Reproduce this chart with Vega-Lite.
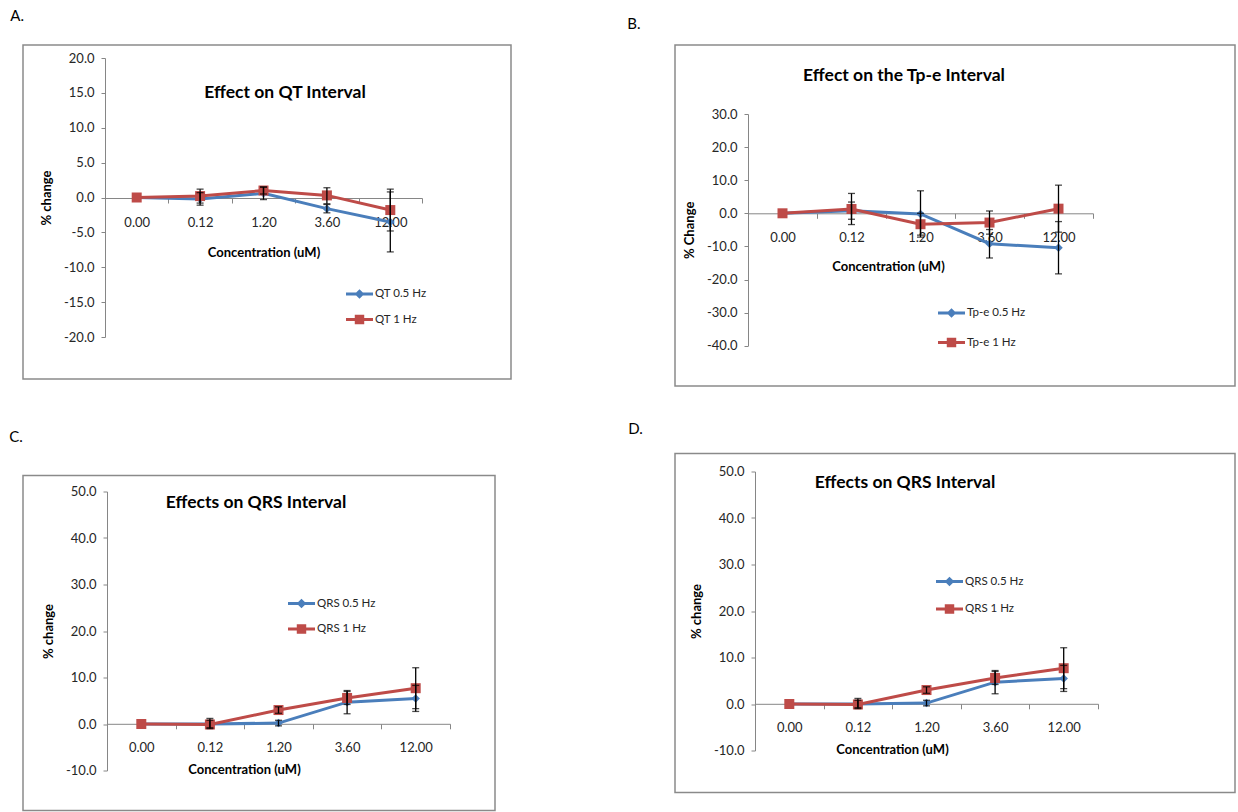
{
  "$schema": "https://vega.github.io/schema/vega-lite/v6.json",
  "background": "white",
  "padding": {"left": 9, "top": 9, "right": 0, "bottom": 0},
  "config": {
    "view": {"stroke": "#8a8a8a", "strokeWidth": 1.5},
    "font": "Lato",
    "locale": {"number": {"decimal": ".", "thousands": ",", "grouping": [3], "currency": ["$", ""], "minus": "-"}},
    "axis": {"labelFont": "Lato", "titleFont": "Lato", "grid": false, "domainColor": "#868686", "tickColor": "#868686", "labelColor": "#262626", "titleColor": "#000000", "labelFontSize": 13, "titleFontSize": 13, "titleFontWeight": "bold", "domainWidth": 1, "tickWidth": 1},
    "legend": {"labelFont": "Lato", "labelFontSize": 11.5, "labelColor": "#262626", "padding": 0, "labelOffset": 2, "symbolSize": 729, "symbolStrokeWidth": 0, "symbolType": "M-1,-0.11H1V0.11H-1Z M-0.35,-0.35H0.35V0.35H-0.35Z"},
    "title": {"font": "Lato", "color": "#000000"}
  },
  "datasets": {
    "qt": [
      {"series": "QT 0.5 Hz", "conc": "0.00", "c": 0, "value": 0, "lo": null, "hi": null},
      {"series": "QT 0.5 Hz", "conc": "0.12", "c": 0.12, "value": -0.2, "lo": -1.1, "hi": 0.7},
      {"series": "QT 0.5 Hz", "conc": "1.20", "c": 1.2, "value": 0.6, "lo": -0.3, "hi": 1.5},
      {"series": "QT 0.5 Hz", "conc": "3.60", "c": 3.6, "value": -1.6, "lo": -2.2, "hi": -1.0},
      {"series": "QT 0.5 Hz", "conc": "12.00", "c": 12, "value": -3.5, "lo": -7.8, "hi": 0.8},
      {"series": "QT 1 Hz", "conc": "0.00", "c": 0, "value": 0, "lo": null, "hi": null},
      {"series": "QT 1 Hz", "conc": "0.12", "c": 0.12, "value": 0.2, "lo": -0.8, "hi": 1.2},
      {"series": "QT 1 Hz", "conc": "1.20", "c": 1.2, "value": 1.0, "lo": 0.5, "hi": 1.5},
      {"series": "QT 1 Hz", "conc": "3.60", "c": 3.6, "value": 0.3, "lo": -0.9, "hi": 1.4},
      {"series": "QT 1 Hz", "conc": "12.00", "c": 12, "value": -1.8, "lo": -4.8, "hi": 1.2}
    ],
    "tpe": [
      {"series": "Tp-e 0.5 Hz", "conc": "0.00", "c": 0, "value": 0, "lo": null, "hi": null},
      {"series": "Tp-e 0.5 Hz", "conc": "0.12", "c": 0.12, "value": 0.8, "lo": -1.8, "hi": 3.4},
      {"series": "Tp-e 0.5 Hz", "conc": "1.20", "c": 1.2, "value": -0.2, "lo": -7.2, "hi": 6.8},
      {"series": "Tp-e 0.5 Hz", "conc": "3.60", "c": 3.6, "value": -9.2, "lo": -13.5, "hi": -4.9},
      {"series": "Tp-e 0.5 Hz", "conc": "12.00", "c": 12, "value": -10.4, "lo": -18.3, "hi": -2.5},
      {"series": "Tp-e 1 Hz", "conc": "0.00", "c": 0, "value": 0, "lo": null, "hi": null},
      {"series": "Tp-e 1 Hz", "conc": "0.12", "c": 0.12, "value": 1.3, "lo": -3.4, "hi": 6.0},
      {"series": "Tp-e 1 Hz", "conc": "1.20", "c": 1.2, "value": -3.3, "lo": -6.6, "hi": 0.0},
      {"series": "Tp-e 1 Hz", "conc": "3.60", "c": 3.6, "value": -2.8, "lo": -6.3, "hi": 0.7},
      {"series": "Tp-e 1 Hz", "conc": "12.00", "c": 12, "value": 1.4, "lo": -5.7, "hi": 8.5}
    ],
    "qrs": [
      {"series": "QRS 0.5 Hz", "conc": "0.00", "c": 0, "value": 0, "lo": null, "hi": null},
      {"series": "QRS 0.5 Hz", "conc": "0.12", "c": 0.12, "value": 0.0, "lo": -0.8, "hi": 0.8},
      {"series": "QRS 0.5 Hz", "conc": "1.20", "c": 1.2, "value": 0.2, "lo": -0.4, "hi": 0.8},
      {"series": "QRS 0.5 Hz", "conc": "3.60", "c": 3.6, "value": 4.7, "lo": 2.2, "hi": 7.2},
      {"series": "QRS 0.5 Hz", "conc": "12.00", "c": 12, "value": 5.5, "lo": 2.7, "hi": 8.3},
      {"series": "QRS 1 Hz", "conc": "0.00", "c": 0, "value": 0, "lo": null, "hi": null},
      {"series": "QRS 1 Hz", "conc": "0.12", "c": 0.12, "value": -0.1, "lo": -1.0, "hi": 1.2},
      {"series": "QRS 1 Hz", "conc": "1.20", "c": 1.2, "value": 3.0, "lo": 2.3, "hi": 3.7},
      {"series": "QRS 1 Hz", "conc": "3.60", "c": 3.6, "value": 5.6, "lo": 4.2, "hi": 7.0},
      {"series": "QRS 1 Hz", "conc": "12.00", "c": 12, "value": 7.7, "lo": 3.3, "hi": 12.1}
    ]
  },
  "spacing": 115,
  "resolve": {"scale": {"color": "independent"}, "legend": {"color": "independent"}},
  "hconcat": [
    {
      "spacing": 49.5,
      "resolve": {"scale": {"color": "independent"}, "legend": {"color": "independent"}},
      "vconcat": [
        {
          "title": {"text": "A.", "anchor": "start", "dx": -12, "offset": 8, "baseline": "alphabetic", "fontSize": 15, "fontWeight": "normal"},
          "resolve": {"scale": {"color": "independent"}, "legend": {"color": "independent"}},
          "vconcat": [
            {
              "width": 488, "height": 334,
              "title": {"text": "Effect on QT Interval", "anchor": "middle", "dx": 18, "offset": -65, "baseline": "middle", "fontSize": 17.5, "fontWeight": "bold"},
              "data": {"name": "qt"},
              "encoding": {
                "x": {"field": "conc", "type": "ordinal", "sort": null,
                  "scale": {"type": "band", "domain": ["0.00", "0.12", "1.20", "3.60", "12.00"], "range": [82, 399], "paddingInner": 0, "paddingOuter": 0},
                  "axis": {"orient": "bottom", "offset": -181, "tickBand": "extent", "tickSize": 5, "labelAngle": 0, "labelPadding": 13, "title": "Concentration (uM)", "titleY": 54, "titleBaseline": "middle"}},
                "color": {"field": "series", "type": "nominal", "scale": {"domain": ["QT 0.5 Hz", "QT 1 Hz"], "range": ["#4A7EBB", "#BE4B48"]},
                  "legend": {"orient": "none", "legendX": 323, "legendY": 235.5, "title": null, "rowPadding": 6.5,
                    "encoding": {"symbols": {"update": {"shape": {"signal": "indexof(datum.value, '0.5') >= 0 ? 'M-1,-0.11H1V0.11H-1Z M0,-0.36L0.36,0L0,0.36L-0.36,0Z' : 'M-1,-0.11H1V0.11H-1Z M-0.35,-0.35H0.35V0.35H-0.35Z'"}}}},
                    "encode": {"symbols": {"update": {"shape": {"signal": "indexof(datum.value, '0.5') >= 0 ? 'M-1,-0.11H1V0.11H-1Z M0,-0.36L0.36,0L0,0.36L-0.36,0Z' : 'M-1,-0.11H1V0.11H-1Z M-0.35,-0.35H0.35V0.35H-0.35Z'"}}}}}}
              },
              "layer": [
                {"mark": {"type": "line", "strokeWidth": 3},
                  "encoding": {
                    "y": {"field": "value", "type": "quantitative", "title": "% change",
                      "scale": {"domain": [-20, 20], "range": [292, 13], "nice": false, "zero": false},
                      "axis": {"offset": -82, "values": [-20, -15, -10, -5, 0, 5, 10, 15, 20], "format": ".1f", "tickSize": 4, "labelPadding": 7, "titlePadding": 10}},
                    "order": {"field": "c", "type": "quantitative"}}},
                {"transform": [{"filter": {"field": "series", "equal": "QT 0.5 Hz"}}],
                  "mark": {"type": "point", "filled": true, "opacity": 1, "shape": "diamond", "size": 72},
                  "encoding": {"y": {"field": "value", "type": "quantitative"}}},
                {"transform": [{"filter": {"field": "series", "equal": "QT 1 Hz"}}],
                  "mark": {"type": "point", "filled": true, "opacity": 1, "shape": "square", "size": 100},
                  "encoding": {"y": {"field": "value", "type": "quantitative"}}},
                {"mark": {"type": "rule", "color": "#000000", "strokeWidth": 1.3},
                  "encoding": {"y": {"field": "lo", "type": "quantitative"}, "y2": {"field": "hi"}, "color": {"value": "#000000"}}},
                {"mark": {"type": "tick", "color": "#000000", "thickness": 1.3, "size": 7, "orient": "horizontal"},
                  "encoding": {"y": {"field": "lo", "type": "quantitative"}, "color": {"value": "#000000"}}},
                {"mark": {"type": "tick", "color": "#000000", "thickness": 1.3, "size": 7, "orient": "horizontal"},
                  "encoding": {"y": {"field": "hi", "type": "quantitative"}, "color": {"value": "#000000"}}}
              ]
            }
          ]
        },
        {
          "title": {"text": "C.", "anchor": "start", "dx": -13, "offset": 17.5, "baseline": "alphabetic", "fontSize": 15, "fontWeight": "normal"},
          "resolve": {"scale": {"color": "independent"}, "legend": {"color": "independent"}},
          "vconcat": [
            {
              "width": 472, "height": 335,
              "title": {"text": "Effects on QRS Interval", "anchor": "middle", "dx": -3, "offset": -45, "baseline": "middle", "fontSize": 17.5, "fontWeight": "bold"},
              "data": {"name": "qrs"},
              "encoding": {
                "x": {"field": "conc", "type": "ordinal", "sort": null,
                  "scale": {"type": "band", "domain": ["0.00", "0.12", "1.20", "3.60", "12.00"], "range": [84, 427], "paddingInner": 0, "paddingOuter": 0},
                  "axis": {"orient": "bottom", "offset": -86.7, "tickBand": "extent", "tickSize": 5, "labelAngle": 0, "labelPadding": 13, "title": "Concentration (uM)", "titleX": 221, "titleY": 45.7, "titleBaseline": "middle"}},
                "color": {"field": "series", "type": "nominal", "scale": {"domain": ["QRS 0.5 Hz", "QRS 1 Hz"], "range": ["#4A7EBB", "#BE4B48"]},
                  "legend": {"orient": "none", "legendX": 265, "legendY": 114.5, "title": null, "rowPadding": 6.5,
                    "encoding": {"symbols": {"update": {"shape": {"signal": "indexof(datum.value, '0.5') >= 0 ? 'M-1,-0.11H1V0.11H-1Z M0,-0.36L0.36,0L0,0.36L-0.36,0Z' : 'M-1,-0.11H1V0.11H-1Z M-0.35,-0.35H0.35V0.35H-0.35Z'"}}}},
                    "encode": {"symbols": {"update": {"shape": {"signal": "indexof(datum.value, '0.5') >= 0 ? 'M-1,-0.11H1V0.11H-1Z M0,-0.36L0.36,0L0,0.36L-0.36,0Z' : 'M-1,-0.11H1V0.11H-1Z M-0.35,-0.35H0.35V0.35H-0.35Z'"}}}}}}
              },
              "layer": [
                {"mark": {"type": "line", "strokeWidth": 3},
                  "encoding": {
                    "y": {"field": "value", "type": "quantitative", "title": "% change",
                      "scale": {"domain": [-10, 50], "range": [295, 16], "nice": false, "zero": false},
                      "axis": {"offset": -84, "values": [-10, 0, 10, 20, 30, 40, 50], "format": ".1f", "tickSize": 4, "labelPadding": 7, "titlePadding": 10}},
                    "order": {"field": "c", "type": "quantitative"}}},
                {"transform": [{"filter": {"field": "series", "equal": "QRS 0.5 Hz"}}],
                  "mark": {"type": "point", "filled": true, "opacity": 1, "shape": "diamond", "size": 72},
                  "encoding": {"y": {"field": "value", "type": "quantitative"}}},
                {"transform": [{"filter": {"field": "series", "equal": "QRS 1 Hz"}}],
                  "mark": {"type": "point", "filled": true, "opacity": 1, "shape": "square", "size": 100},
                  "encoding": {"y": {"field": "value", "type": "quantitative"}}},
                {"mark": {"type": "rule", "color": "#000000", "strokeWidth": 1.3},
                  "encoding": {"y": {"field": "lo", "type": "quantitative"}, "y2": {"field": "hi"}, "color": {"value": "#000000"}}},
                {"mark": {"type": "tick", "color": "#000000", "thickness": 1.3, "size": 7, "orient": "horizontal"},
                  "encoding": {"y": {"field": "lo", "type": "quantitative"}, "color": {"value": "#000000"}}},
                {"mark": {"type": "tick", "color": "#000000", "thickness": 1.3, "size": 7, "orient": "horizontal"},
                  "encoding": {"y": {"field": "hi", "type": "quantitative"}, "color": {"value": "#000000"}}}
              ]
            }
          ]
        }
      ]
    },
    {
      "spacing": 34.5,
      "resolve": {"scale": {"color": "independent"}, "legend": {"color": "independent"}},
      "vconcat": [
        {
          "title": {"text": "B.", "anchor": "start", "dx": -47, "offset": 0, "baseline": "alphabetic", "fontSize": 15, "fontWeight": "normal"},
          "resolve": {"scale": {"color": "independent"}, "legend": {"color": "independent"}},
          "vconcat": [
            {
              "width": 560, "height": 341,
              "title": {"text": "Effect on the Tp-e Interval", "anchor": "middle", "dx": -51, "offset": -48, "baseline": "middle", "fontSize": 17.5, "fontWeight": "bold"},
              "data": {"name": "tpe"},
              "encoding": {
                "x": {"field": "conc", "type": "ordinal", "sort": null,
                  "scale": {"type": "band", "domain": ["0.00", "0.12", "1.20", "3.60", "12.00"], "range": [73, 418], "paddingInner": 0, "paddingOuter": 0},
                  "axis": {"orient": "bottom", "offset": -172.7, "tickBand": "extent", "tickSize": 5, "labelAngle": 0, "labelPadding": 13, "title": "Concentration (uM)", "titleX": 213, "titleY": 52.7, "titleBaseline": "middle"}},
                "color": {"field": "series", "type": "nominal", "scale": {"domain": ["Tp-e 0.5 Hz", "Tp-e 1 Hz"], "range": ["#4A7EBB", "#BE4B48"]},
                  "legend": {"orient": "none", "legendX": 263, "legendY": 254.5, "title": null, "rowPadding": 10.5,
                    "encoding": {"symbols": {"update": {"shape": {"signal": "indexof(datum.value, '0.5') >= 0 ? 'M-1,-0.11H1V0.11H-1Z M0,-0.36L0.36,0L0,0.36L-0.36,0Z' : 'M-1,-0.11H1V0.11H-1Z M-0.35,-0.35H0.35V0.35H-0.35Z'"}}}},
                    "encode": {"symbols": {"update": {"shape": {"signal": "indexof(datum.value, '0.5') >= 0 ? 'M-1,-0.11H1V0.11H-1Z M0,-0.36L0.36,0L0,0.36L-0.36,0Z' : 'M-1,-0.11H1V0.11H-1Z M-0.35,-0.35H0.35V0.35H-0.35Z'"}}}}}}
              },
              "layer": [
                {"mark": {"type": "line", "strokeWidth": 3},
                  "encoding": {
                    "y": {"field": "value", "type": "quantitative", "title": "% Change",
                      "scale": {"domain": [-40, 30], "range": [300.7, 69], "nice": false, "zero": false},
                      "axis": {"offset": -73, "values": [-40, -30, -20, -10, 0, 10, 20, 30], "format": ".1f", "tickSize": 4, "labelPadding": 7, "titlePadding": 10}},
                    "order": {"field": "c", "type": "quantitative"}}},
                {"transform": [{"filter": {"field": "series", "equal": "Tp-e 0.5 Hz"}}],
                  "mark": {"type": "point", "filled": true, "opacity": 1, "shape": "diamond", "size": 72},
                  "encoding": {"y": {"field": "value", "type": "quantitative"}}},
                {"transform": [{"filter": {"field": "series", "equal": "Tp-e 1 Hz"}}],
                  "mark": {"type": "point", "filled": true, "opacity": 1, "shape": "square", "size": 100},
                  "encoding": {"y": {"field": "value", "type": "quantitative"}}},
                {"mark": {"type": "rule", "color": "#000000", "strokeWidth": 1.3},
                  "encoding": {"y": {"field": "lo", "type": "quantitative"}, "y2": {"field": "hi"}, "color": {"value": "#000000"}}},
                {"mark": {"type": "tick", "color": "#000000", "thickness": 1.3, "size": 7, "orient": "horizontal"},
                  "encoding": {"y": {"field": "lo", "type": "quantitative"}, "color": {"value": "#000000"}}},
                {"mark": {"type": "tick", "color": "#000000", "thickness": 1.3, "size": 7, "orient": "horizontal"},
                  "encoding": {"y": {"field": "hi", "type": "quantitative"}, "color": {"value": "#000000"}}}
              ]
            }
          ]
        },
        {
          "title": {"text": "D.", "anchor": "start", "dx": -46, "offset": 3.5, "baseline": "alphabetic", "fontSize": 15, "fontWeight": "normal"},
          "resolve": {"scale": {"color": "independent"}, "legend": {"color": "independent"}},
          "vconcat": [
            {
              "width": 560, "height": 339,
              "title": {"text": "Effects on QRS Interval", "anchor": "middle", "dx": -50, "offset": -47, "baseline": "middle", "fontSize": 17.5, "fontWeight": "bold"},
              "data": {"name": "qrs"},
              "encoding": {
                "x": {"field": "conc", "type": "ordinal", "sort": null,
                  "scale": {"type": "band", "domain": ["0.00", "0.12", "1.20", "3.60", "12.00"], "range": [80, 423], "paddingInner": 0, "paddingOuter": 0},
                  "axis": {"orient": "bottom", "offset": -88.7, "tickBand": "extent", "tickSize": 5, "labelAngle": 0, "labelPadding": 13, "title": "Concentration (uM)", "titleX": 217, "titleY": 45.7, "titleBaseline": "middle"}},
                "color": {"field": "series", "type": "nominal", "scale": {"domain": ["QRS 0.5 Hz", "QRS 1 Hz"], "range": ["#4A7EBB", "#BE4B48"]},
                  "legend": {"orient": "none", "legendX": 261, "legendY": 114.5, "title": null, "rowPadding": 8.5,
                    "encoding": {"symbols": {"update": {"shape": {"signal": "indexof(datum.value, '0.5') >= 0 ? 'M-1,-0.11H1V0.11H-1Z M0,-0.36L0.36,0L0,0.36L-0.36,0Z' : 'M-1,-0.11H1V0.11H-1Z M-0.35,-0.35H0.35V0.35H-0.35Z'"}}}},
                    "encode": {"symbols": {"update": {"shape": {"signal": "indexof(datum.value, '0.5') >= 0 ? 'M-1,-0.11H1V0.11H-1Z M0,-0.36L0.36,0L0,0.36L-0.36,0Z' : 'M-1,-0.11H1V0.11H-1Z M-0.35,-0.35H0.35V0.35H-0.35Z'"}}}}}}
              },
              "layer": [
                {"mark": {"type": "line", "strokeWidth": 3},
                  "encoding": {
                    "y": {"field": "value", "type": "quantitative", "title": "% change",
                      "scale": {"domain": [-10, 50], "range": [297, 18], "nice": false, "zero": false},
                      "axis": {"offset": -80, "values": [-10, 0, 10, 20, 30, 40, 50], "format": ".1f", "tickSize": 4, "labelPadding": 7, "titlePadding": 10}},
                    "order": {"field": "c", "type": "quantitative"}}},
                {"transform": [{"filter": {"field": "series", "equal": "QRS 0.5 Hz"}}],
                  "mark": {"type": "point", "filled": true, "opacity": 1, "shape": "diamond", "size": 72},
                  "encoding": {"y": {"field": "value", "type": "quantitative"}}},
                {"transform": [{"filter": {"field": "series", "equal": "QRS 1 Hz"}}],
                  "mark": {"type": "point", "filled": true, "opacity": 1, "shape": "square", "size": 100},
                  "encoding": {"y": {"field": "value", "type": "quantitative"}}},
                {"mark": {"type": "rule", "color": "#000000", "strokeWidth": 1.3},
                  "encoding": {"y": {"field": "lo", "type": "quantitative"}, "y2": {"field": "hi"}, "color": {"value": "#000000"}}},
                {"mark": {"type": "tick", "color": "#000000", "thickness": 1.3, "size": 7, "orient": "horizontal"},
                  "encoding": {"y": {"field": "lo", "type": "quantitative"}, "color": {"value": "#000000"}}},
                {"mark": {"type": "tick", "color": "#000000", "thickness": 1.3, "size": 7, "orient": "horizontal"},
                  "encoding": {"y": {"field": "hi", "type": "quantitative"}, "color": {"value": "#000000"}}}
              ]
            }
          ]
        }
      ]
    }
  ]
}
